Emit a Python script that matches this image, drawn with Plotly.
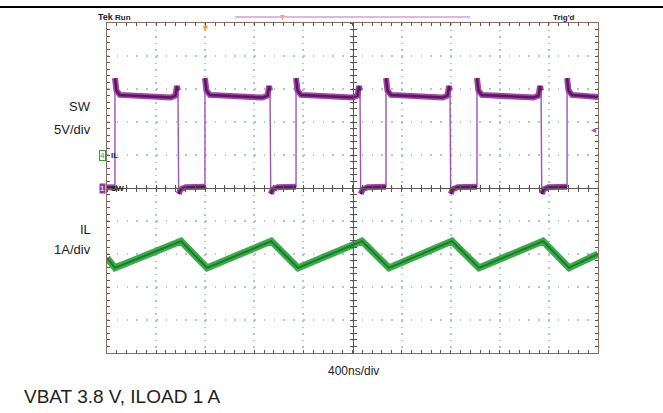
"""
Scope capture: SW node voltage and inductor current, VBAT 3.8 V, ILOAD 1 A.
Values are in screen divisions (SW: 5 V/div, IL: 1 A/div), time in ns.
"""

import plotly.graph_objects as go

# ---------------------------------------------------------------------------
# Data (read off the capture)
# ---------------------------------------------------------------------------

SW_T_NS = [0, 65, 65, 77, 105, 520, 558, 570, 578, 584, 600, 640,
           798, 798, 810, 838, 1268, 1308, 1320, 1328, 1334, 1350, 1390,
           1540, 1540, 1552, 1580, 2001, 2041, 2053, 2061, 2067, 2083, 2123,
           2273, 2273, 2285, 2313, 2734, 2774, 2786, 2794, 2800, 2816, 2856,
           3014, 3014, 3026, 3054, 3476, 3516, 3528, 3536, 3542, 3558, 3598,
           3748, 3748, 3760, 3788, 4000]
SW_DIV = [0.02, 0.02, 3.33, 2.95, 2.82, 2.74, 2.80, 3.09, 2.95, -0.18, -0.04, 0.02,
          0.04, 3.33, 2.95, 2.82, 2.74, 2.80, 3.09, 2.95, -0.18, -0.04, 0.02,
          0.04, 3.33, 2.95, 2.82, 2.74, 2.80, 3.09, 2.95, -0.18, -0.04, 0.02,
          0.04, 3.33, 2.95, 2.82, 2.74, 2.80, 3.09, 2.95, -0.18, -0.04, 0.02,
          0.04, 3.33, 2.95, 2.82, 2.74, 2.80, 3.09, 2.95, -0.18, -0.04, 0.02,
          0.04, 3.33, 2.95, 2.82, 2.76]

IL_T_NS = [0, 65, 603, 815, 1338, 1556, 2077, 2297, 2810, 3030, 3552, 3764, 4000]
IL_DIV = [-2.12, -2.42, -1.61, -2.42, -1.61, -2.42, -1.61, -2.42, -1.61, -2.42,
          -1.61, -2.42, -2.00]

X_RANGE = [0, 4000]      # 10 div x 400 ns
Y_RANGE = [-5, 5]        # 10 div

# ---------------------------------------------------------------------------
# Layout helpers
# ---------------------------------------------------------------------------

W, H = 663, 413
L, R, T, B = 107, 65, 23, 60
PW, PH = W - L - R, H - T - B

FONT = "Liberation Sans, Arial, sans-serif"
BORDER = "#8a6d63"
GRID = "#b3c6cf"
CENTER = "#5e5555"


def px(x, y):
    """pixel position in the page -> paper coords"""
    return (x - L) / PW, (H - B - y) / PH


def split_levels(t, v):
    """keep the flat parts of the switching trace, break at the edges"""
    xs, ys = [t[0]], [v[0]]
    for i in range(1, len(t)):
        if abs(v[i] - v[i - 1]) > 1.5:
            xs.append(None)
            ys.append(None)
        xs.append(t[i])
        ys.append(v[i])
    return xs, ys


fig = go.Figure()

# --- SW ----------------------------------------------------------------
bx, by = split_levels(SW_T_NS, SW_DIV)
fig.add_trace(go.Scatter(x=SW_T_NS, y=SW_DIV, mode="lines",
                         line=dict(color="#9a55b5", width=1.4), hoverinfo="skip"))
fig.add_trace(go.Scatter(x=bx, y=by, mode="lines",
                         line=dict(color="#a445ab", width=6), hoverinfo="skip"))
fig.add_trace(go.Scatter(x=bx, y=by, mode="lines",
                         line=dict(color="#5a1860", width=2.5), hoverinfo="skip"))

# --- IL ----------------------------------------------------------------
fig.add_trace(go.Scatter(x=IL_T_NS, y=IL_DIV, mode="lines",
                         line=dict(color="#3aab4a", width=7), hoverinfo="skip"))
fig.add_trace(go.Scatter(x=IL_T_NS, y=IL_DIV, mode="lines",
                         line=dict(color="#1d7a2b", width=2), hoverinfo="skip"))

# empty traces so the centre-line axes get drawn
fig.add_trace(go.Scatter(x=[None], y=[None], xaxis="x2", yaxis="y2", showlegend=False))
fig.add_trace(go.Scatter(x=[None], y=[None], xaxis="x3", yaxis="y3", showlegend=False))

grid_ax = dict(showticklabels=False, zeroline=False, showline=True,
               linecolor=BORDER, linewidth=1, mirror="ticks",
               ticks="inside", ticklen=3, tickcolor=CENTER, gridcolor=GRID,
               gridwidth=1.5)

fig.update_xaxes(range=X_RANGE, dtick=400, griddash="1.5px,5.1px",
                 minor=dict(dtick=80, ticks="inside", ticklen=3,
                            tickcolor=CENTER, showgrid=False),
                 **grid_ax)
fig.update_yaxes(range=Y_RANGE, dtick=1, griddash="1.5px,8.3px",
                 minor=dict(dtick=0.2, ticks="inside", ticklen=3,
                            tickcolor=CENTER, showgrid=False),
                 **grid_ax)

centre_ax = dict(showticklabels=False, showgrid=False, zeroline=False,
                 showline=True, linecolor=CENTER, linewidth=1,
                 ticklen=3, tickcolor=CENTER, anchor="free", position=0.5)

fig.update_layout(
    width=W, height=H,
    margin=dict(l=L, r=R, t=T, b=B),
    paper_bgcolor="white", plot_bgcolor="white",
    showlegend=False,
    font=dict(family=FONT, color="#222"),
    xaxis2=dict(overlaying="x", range=X_RANGE, dtick=80, ticks="outside", **centre_ax),
    xaxis3=dict(overlaying="x", range=X_RANGE, dtick=80, ticks="inside", **centre_ax),
    yaxis2=dict(overlaying="y", range=Y_RANGE, dtick=0.2, ticks="outside", **centre_ax),
    yaxis3=dict(overlaying="y", range=Y_RANGE, dtick=0.2, ticks="inside", **centre_ax),
)

# ---------------------------------------------------------------------------
# Decorations
# ---------------------------------------------------------------------------

x0, y0 = px(0, 7)
x1, _ = px(W, 7)
fig.add_shape(type="line", xref="paper", yref="paper", x0=x0, x1=x1, y0=y0, y1=y0,
              line=dict(color="black", width=2))
a0, ty = px(235, 17)
a1, _ = px(470, 17)
fig.add_shape(type="line", xref="paper", yref="paper", x0=a0, x1=a1, y0=ty, y1=ty,
              line=dict(color="#c9a3d9", width=1.5))


def note(text, x, y, size, xanchor="center", color="#222", **kw):
    xp, yp = px(x, y)
    fig.add_annotation(text=text, x=xp, y=yp, xref="paper", yref="paper",
                       xanchor=xanchor, yanchor="middle", showarrow=False,
                       font=dict(size=size, color=color, family=FONT), **kw)


note("<b>Tek</b>", 96, 17, 9, "left")
note("<b>Run</b>", 113, 17, 8, "left")
note("<b>Trig'd</b>", 551, 17, 8, "left")
note("<b>T</b>", 282, 17, 8, color="#f0a030")
note("▼", 205, 28, 9, color="#f0a030")
note("◂", 593, 129, 10, color="#9a55b5")

note("1", 102, 188, 8, color="white", bgcolor="#8e3d9a", borderpad=0)
note("<b>SW</b>", 109, 188, 8, "left")
note("4", 102, 155, 8, color="#2e9e3e", bgcolor="white",
     bordercolor="#2e9e3e", borderwidth=1, borderpad=0)
note("<b>IL</b>", 109, 155, 8, "left")

note("SW", 93, 107, 13, "right")
note("5V/div", 93, 129, 13, "right")
note("IL", 93, 229, 13, "right")
note("1A/div", 93, 249, 13, "right")
note("400ns/div", 353, 371, 12)
note("VBAT 3.8 V, ILOAD 1 A", 22, 396, 19, "left")

# page body has a default 8px margin; drop it so the figure sits at 0,0
fig.write_html("out.html", config={"displayModeBar": False},
               post_script="document.body.style.margin='0';")
